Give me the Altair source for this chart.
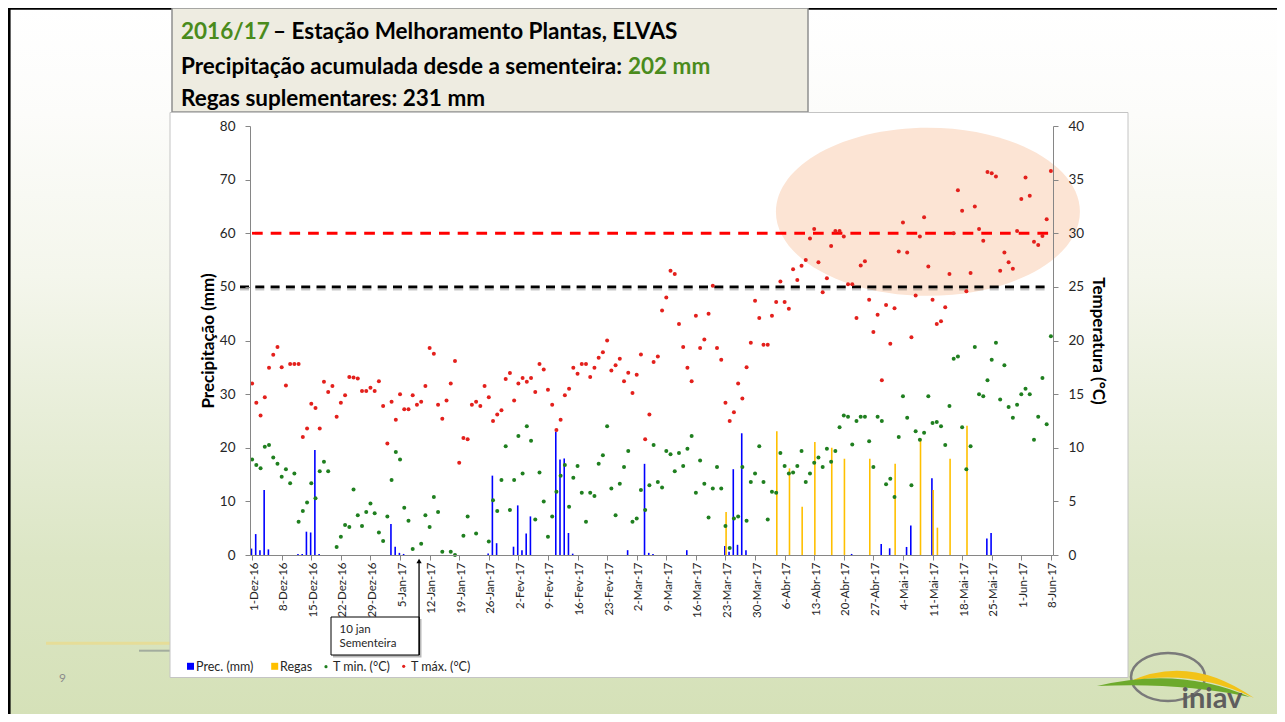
import altair as alt
import pandas as pd

# ---------------- data ----------------
DAY_LABELS = ['1-Dez-16', '8-Dez-16', '15-Dez-16', '22-Dez-16', '29-Dez-16', '5-Jan-17',
              '12-Jan-17', '19-Jan-17', '26-Jan-17', '2-Fev-17', '9-Fev-17', '16-Fev-17',
              '23-Fev-17', '2-Mar-17', '9-Mar-17', '16-Mar-17', '23-Mar-17', '30-Mar-17',
              '6-Abr-17', '13-Abr-17', '20-Abr-17', '27-Abr-17', '4-Mai-17', '11-Mai-17',
              '18-Mai-17', '25-Mai-17', '1-Jun-17', '8-Jun-17']
TICK_DAYS = list(range(0, 190, 7))   # day index since 1-Dez-16

TMAX = [16.0, 14.2, 13.0, 14.7, 17.45, 18.66, 19.4, 17.5, 15.8, 17.8,
        17.8, 17.8, 11.0, 11.8, 14.1, 13.7, 11.8, 16.15, 15.2, 15.75,
        12.9, 14.2, 14.9, 16.6, 16.55, 16.46, 15.3, 15.3, 15.6, 15.3,
        16.2, 13.9, 10.4, 14.3, 12.6, 15.0, 13.6, 13.6, 14.9, 14.0,
        14.3, 15.75, 19.3, 18.76, 14.0, 12.7, 14.4, 16.0, 18.1, 8.6,
        10.9, 10.8, 14.0, 14.3, 13.9, 15.75, 14.7, 12.5, 13.1, 13.5,
        16.4, 16.96, 14.4, 16.0, 16.5, 16.15, 16.5, 15.2, 17.8, 17.3,
        15.4, 14.0, 11.65, 12.6, 14.9, 15.5, 17.45, 16.9, 17.8, 17.8,
        16.6, 17.45, 18.4, 18.9, 20.0, 17.2, 17.7, 18.3, 16.2, 17.0,
        15.1, 16.8, 18.7, 10.8, 13.1, 18.0, 18.5, 22.8, 24.0, 26.5,
        26.2, 21.55, 19.4, 17.45, 16.2, 22.3, 19.3, 20.1, 22.5, 25.1,
        19.3, 18.2, 14.2, 12.5, 13.3, 16.0, 14.6, 17.5, 19.8, 23.7,
        22.1, 19.6, 19.6, 22.3, 23.6, 25.5, 23.6, 22.95, 26.65, 25.65,
        26.96, 27.5, 29.5, 30.4, 27.3, 24.5, 25.8, 28.8, 30.2, 30.2,
        29.7, 25.25, 25.25, 22.1, 27.0, 27.4, 23.8, 20.8, 22.4, 16.3,
        23.3, 19.7, 23.0, 28.3, 31.0, 28.2, 20.3, 24.2, 29.7, 31.5,
        26.9, 23.8, 21.55, 21.8, 23.1, 26.2, 30.0, 34.0, 32.1, 24.6,
        26.3, 32.5, 30.4, 29.3, 35.7, 35.6, 35.3, 26.5, 28.2, 27.3,
        26.7, 30.2, 33.2, 35.2, 33.5, 29.2, 28.9, 29.75, 31.3, 35.8]

TMIN = [8.9, 8.4, 8.1, 10.1, 10.25, 9.1, 8.5, 7.3, 8.0, 6.7,
        7.6, 3.1, 4.1, 4.9, 6.7, 5.3, 7.8, 8.7, 7.8, None,
        0.75, 1.7, 2.8, 2.6, 6.1, 3.7, 2.7, 4.0, 4.8, 3.9,
        2.1, 1.3, 3.6, 7.0, 9.6, 8.9, 4.4, 3.2, 0.56, None,
        1.05, 3.7, 2.6, 5.4, 4.0, 0.3, None, 0.3, 0.0, None,
        1.8, 3.6, None, 2.0, None, None, 1.25, 5.1, 4.1, 7.0,
        10.15, 4.2, 7.0, 11.1, 7.6, 12.0, 10.65, 3.3, 7.7, 5.0,
        1.7, 3.6, 5.9, 7.4, 8.4, 4.5, 7.2, 8.3, 5.8, 3.1,
        5.8, 5.5, 8.5, 9.3, 12.0, 6.2, 3.7, 6.65, 8.2, 9.7,
        3.1, 3.4, 6.05, 4.2, 6.5, 10.25, 6.8, 6.3, 9.7, 9.4,
        7.8, 9.5, 8.3, 9.9, 11.1, 5.8, 8.8, 6.65, 3.5, 6.2,
        8.2, 6.2, 2.7, 0.65, 3.4, 3.6, 8.2, 3.2, 6.8, 7.6,
        10.15, 6.8, 3.3, 5.9, 5.8, 9.5, 8.3, 7.6, 7.7, 8.3,
        9.7, 6.8, 7.6, 8.6, 9.1, 8.2, 9.9, 8.7, 9.7, 11.9,
        13.0, 12.9, 10.3, 12.5, 12.9, 12.9, 10.6, 8.2, 12.9, 12.5,
        6.6, 7.1, 5.4, 11.0, 14.8, 12.8, 6.5, 11.55, 10.75, 11.4,
        14.8, 12.3, 12.4, 12.0, 10.25, 13.9, 18.3, 18.5, 11.9, 8.0,
        10.15, 19.4, 15.0, 14.8, 16.3, 18.2, 19.8, 14.5, 17.7, 13.8,
        12.8, 14.0, 15.0, 15.5, 15.0, 10.75, 12.9, 16.5, 12.2, 20.4]

PREC_DAYS = [0, 1, 2, 3, 4, 11, 12, 13, 14, 15, 16, 33, 34, 35, 36, 56, 57, 58, 62, 63,
             64, 65, 66, 72, 73, 74, 75, 76, 89, 93, 94, 95, 103, 112, 113, 114, 115, 116,
             117, 142, 149, 151, 155, 156, 161, 174, 175]
PREC_MM = [1.2, 3.9, 0.9, 12.1, 1.05, 0.2, 0.2, 4.35, 4.2, 19.6, 0.2, 5.8, 1.55, 0.4, 0.2,
           0.3, 14.8, 2.2, 1.55, 9.25, 0.9, 4.0, 7.2, 23.0, 17.8, 18.0, 4.1, 0.25, 0.9, 17.0,
           0.4, 0.2, 0.9, 1.7, 0.6, 16.0, 1.9, 22.7, 0.9, 0.2, 2.05, 1.25, 1.5, 5.5, 14.3,
           3.1, 4.1]

REGAS_DAYS = [112, 124, 127, 130, 133, 137, 140, 146, 152, 158, 161, 162, 165, 169]
REGAS_MM = [8.0, 23.1, 16.15, 9.0, 21.05, 20.0, 17.95, 17.95, 17.0, 21.7, 12.1, 5.1, 17.95, 24.1]

SOWING_DAY = 40            # 10 jan
THRESH_C = [25, 30]        # reference temperatures
HIGHLIGHT_DAY = [159.9]    # highlighted hot period (ellipse centre)
HIGHLIGHT_TEMP = [32.0]

# ---------------- layout helpers ----------------
PW, PH = 803, 429          # plot area
X0, Y0 = 250, 126          # plot origin on page
def px(x): return x - X0
def py(y): return y - Y0

FONT = 'Lato'
one = pd.DataFrame({'k': [0]})

def rect(x1, y1, x2, y2, **kw):
    return alt.Chart(one).mark_rect(**kw).encode(
        x=alt.value(px(x1)), x2=alt.value(px(x2)), y=alt.value(py(y1)), y2=alt.value(py(y2)))

def hrule(x1, x2, y, **kw):
    return alt.Chart(one).mark_rule(**kw).encode(
        x=alt.value(px(x1)), x2=alt.value(px(x2)), y=alt.value(py(y)))

def vrule(x, y1, y2, **kw):
    return alt.Chart(one).mark_rule(**kw).encode(
        x=alt.value(px(x)), y=alt.value(py(y1)), y2=alt.value(py(y2)))

def txt(x, y, s, size=11, color='#262626', weight='normal', align='left', baseline='middle'):
    return alt.Chart(one).mark_text(text=s, fontSize=size, color=color, fontWeight=weight,
                                    align=align, baseline=baseline, font=FONT).encode(
        x=alt.value(px(x)), y=alt.value(py(y)))

def sym(x, y, **kw):
    return alt.Chart(one).mark_point(**kw).encode(x=alt.value(px(x)), y=alt.value(py(y)))

# ---------------- scales / axes ----------------
label_expr = "[" + ",".join("'%s'" % s for s in DAY_LABELS) + "][round(datum.value/7)]"
AXC = '#868686'
xaxis = alt.Axis(values=TICK_DAYS, labelExpr=label_expr, labelAngle=-90, labelAlign='right',
                 labelBaseline='middle', labelOffset=2, labelPadding=2, labelFontSize=11.5,
                 labelFont=FONT, labelColor='#262626', tickSize=5, tickColor=AXC,
                 domainColor=AXC, grid=False, zindex=1, labelOverlap=False, labelFlush=False,
                 title=None)
X = alt.X('xp:Q', scale=alt.Scale(domain=[-0.5, 189.5], nice=False, zero=False),
          axis=xaxis, title=None)

mm_axis = alt.Axis(values=list(range(0, 81, 10)), orient='left', grid=False, zindex=1,
                   labelFont=FONT, labelFontSize=13.5, labelColor='#262626', labelPadding=10,
                   tickSize=5, tickColor=AXC, domainColor=AXC,
                   title='Precipitação (mm)', titleFont=FONT, titleFontSize=17,
                   titleFontWeight='bold', titleColor='#000000', titleAngle=-90,
                   titleAlign='center', titleBaseline='middle', titleX=-42, titleY=PH / 2)
Ymm = alt.Y('mm:Q', scale=alt.Scale(domain=[0, 80], nice=False), axis=mm_axis,
            title='Precipitação (mm)')

t_axis = alt.Axis(values=list(range(0, 41, 5)), orient='right', grid=False, zindex=1,
                  labelFont=FONT, labelFontSize=13.5, labelColor='#262626', labelPadding=10,
                  tickSize=5, tickColor=AXC, domainColor=AXC,
                  title='Temperatura (°C)', titleFont=FONT, titleFontSize=17,
                  titleFontWeight='bold', titleColor='#000000', titleAngle=90,
                  titleAlign='center', titleBaseline='middle', titleX=44, titleY=PH / 2)
Yt = alt.Y('temp:Q', scale=alt.Scale(domain=[0, 40], nice=False), axis=t_axis,
           title='Temperatura (°C)')

# ---------------- data frames ----------------
days = list(range(len(TMAX)))
df_tmax = pd.DataFrame({'day': days, 'temp': TMAX})
df_tmin = pd.DataFrame({'day': days, 'temp': TMIN}).dropna()
df_prec = pd.DataFrame({'day': PREC_DAYS, 'mm': PREC_MM})
df_regas = pd.DataFrame({'day': REGAS_DAYS, 'mm': REGAS_MM})
df_sow = pd.DataFrame({'day': [SOWING_DAY]})
df_hl = pd.DataFrame({'day': HIGHLIGHT_DAY, 'temp': HIGHLIGHT_TEMP})

# ---------------- background / slide decoration ----------------
grad = alt.LinearGradient(gradient='linear', x1=0, y1=0, x2=0, y2=1, stops=[
    alt.GradientStop(offset=0.0, color='#FFFFFF'),
    alt.GradientStop(offset=0.15, color='#FCFCFA'),
    alt.GradientStop(offset=0.38, color='#F4F6EC'),
    alt.GradientStop(offset=0.57, color='#E8EED9'),
    alt.GradientStop(offset=0.78, color='#DCE6C5'),
    alt.GradientStop(offset=1.0, color='#D5E1B8')])
slide_bg = rect(8, 8, 1277, 714, color=grad)
border_top = hrule(8, 1277, 8.6, color='#000000', strokeWidth=2.4)
border_left = vrule(9.3, 8, 714, color='#000000', strokeWidth=2.6)

title_box = rect(172, 8, 808, 112, fill='#EEECE1', stroke='#8F8F8F', strokeWidth=1.5)
chart_box = rect(170, 112.5, 1128, 677.5, fill='#FFFFFF', stroke='#C4C4C4', strokeWidth=1)

GREEN_T = '#4A8B1C'
TS = 22.5
t1a = txt(181, 39, '2016/17', size=TS, color=GREEN_T, weight='bold', baseline='alphabetic')
t1b = txt(273, 39, '– Estação Melhoramento Plantas, ELVAS', size=TS, color='#000000',
          weight='bold', baseline='alphabetic')
t2a = txt(181, 74, 'Precipitação acumulada desde a sementeira:', size=TS, color='#000000',
          weight='bold', baseline='alphabetic')
t2b = txt(628, 74, '202 mm', size=TS, color=GREEN_T, weight='bold', baseline='alphabetic')
t3 = txt(181, 106, 'Regas suplementares: 231 mm', size=TS, color='#000000', weight='bold',
         baseline='alphabetic')

deco_y = hrule(46, 170, 643.3, color='#E6DD98', strokeWidth=3)
deco_g = hrule(139, 170, 650.7, color='#A3AC9E', strokeWidth=2)
slide_no = txt(62.5, 678, '9', size=12, color='#8C8C8C', align='center')

# logo (custom symbol paths)
LOGO_SIZE = 160 ** 2
ring = sym(1173, 683, shape='M -0.525 -0.075 A 0.4625 0.3 0 1 0 0.4 -0.075 A 0.4625 0.3 0 1 0 -0.525 -0.075 Z',
           size=LOGO_SIZE, filled=False, color='#7A7A7A', strokeWidth=2.5, opacity=1)
swoosh_g = sym(1175, 683, shape='M -0.975 0.0375 Q 0.0625 -0.2125 0.9375 0.175 Q 0.0625 -0.0125 -0.975 0.0375 Z',
               size=LOGO_SIZE, filled=True, color='#6DAA2C', opacity=1, strokeWidth=0)
swoosh_y = sym(1175, 683, shape='M -0.5875 -0.0125 Q 0.1875 -0.375 0.9875 0.1875 Q 0.1875 -0.1875 -0.5875 -0.0125 Z',
               size=LOGO_SIZE, filled=True, color='#F2C318', opacity=1, strokeWidth=0)
logo_txt = txt(1212, 708, 'iniav', size=29, color='#5E5E5E', weight='bold', align='center',
               baseline='alphabetic')

# legend
LS = 12.5
leg = [
    sym(190.5, 666.3, shape='square', size=49, filled=True, color='#0000FF', opacity=1),
    txt(196, 666.5, 'Prec. (mm)', size=LS),
    sym(274.7, 666.3, shape='square', size=49, filled=True, color='#FFC000', opacity=1),
    txt(280, 666.5, 'Regas', size=LS),
    sym(326, 666.7, shape='circle', size=10, filled=True, color='#1F7F1F', opacity=1),
    txt(333, 666.5, 'T min. (°C)', size=LS),
    sym(403.7, 666.3, shape='circle', size=10, filled=True, color='#E3201C', opacity=1),
    txt(411, 666.5, 'T máx. (°C)', size=LS),
]

# sowing callout
sow_shadow = rect(333, 619, 421.5, 657.5, fill='#9A9A9A', opacity=0.7)
sow_box = rect(331, 617, 419.3, 655, fill='#FFFFFF', stroke='#000000', strokeWidth=1)
sow_t1 = txt(339.5, 630, '10 jan', size=11.5)
sow_t2 = txt(339.5, 643.5, 'Sementeira', size=11.5)
sow_arrow = alt.Chart(df_sow).mark_rule(color='#000000', strokeWidth=1.3).transform_calculate(
    xp='datum.day - 0.5').encode(x=X, y=alt.value(py(655)), y2=alt.value(py(561)))
sow_head = alt.Chart(df_sow).mark_point(shape='triangle-up', filled=True, size=28,
                                        color='#000000', opacity=1).transform_calculate(
    xp='datum.day - 0.5').encode(x=X, y=alt.value(py(561)))

# ---------------- data marks ----------------
prec = alt.Chart(df_prec).mark_rule(color='#0000FF', strokeWidth=1.6).transform_calculate(
    xp='datum.day - 0.15').encode(x=X, y=Ymm, y2=alt.datum(0))
regas = alt.Chart(df_regas).mark_rule(color='#FFC000', strokeWidth=1.6).transform_calculate(
    xp='datum.day + 0.15').encode(x=X, y=Ymm, y2=alt.datum(0))

ELLIPSE = 'M -1 0 A 1 0.553 0 1 0 1 0 A 1 0.553 0 1 0 -1 0 Z'
ellipse = alt.Chart(df_hl).mark_point(shape=ELLIPSE, size=304 ** 2, filled=True,
                                      color='#FCE4D4', opacity=1, strokeWidth=0).transform_calculate(
    xp='datum.day').encode(x=X, y=Yt)

df_thr = pd.DataFrame({'temp': THRESH_C})
thr_black_shadow = alt.Chart(df_thr.iloc[[0]]).mark_rule(
    color='#000000', opacity=0.22, strokeWidth=3, strokeDash=[9, 6.3], yOffset=2).encode(
    y=Yt, x=alt.value(-10), x2=alt.value(797))
thr_black = alt.Chart(df_thr.iloc[[0]]).mark_rule(
    color='#000000', strokeWidth=2.6, strokeDash=[9, 6.3]).encode(
    y=Yt, x=alt.value(-10), x2=alt.value(797))
thr_red = alt.Chart(df_thr.iloc[[1]]).mark_rule(
    color='#FF0000', strokeWidth=2.8, strokeDash=[10.7, 8]).encode(
    y=Yt, x=alt.value(2), x2=alt.value(805))

tmin = alt.Chart(df_tmin).mark_circle(color='#1F7F1F', size=16, opacity=1).transform_calculate(
    xp='datum.day').encode(x=X, y=Yt)
tmax = alt.Chart(df_tmax).mark_circle(color='#E3201C', size=16, opacity=1).transform_calculate(
    xp='datum.day').encode(x=X, y=Yt)

left_group = alt.layer(
    slide_bg, border_top, border_left, deco_y, deco_g, slide_no,
    title_box, chart_box, t1a, t1b, t2a, t2b, t3,
    ring, swoosh_y, swoosh_g, logo_txt,
    *leg, sow_shadow, sow_box, sow_t1, sow_t2, sow_arrow, sow_head,
    prec, regas)
right_group = alt.layer(ellipse, thr_black_shadow, thr_black, thr_red, tmin, tmax)

chart = alt.layer(left_group, right_group).resolve_scale(y='independent').properties(
    width=PW, height=PH,
    padding={'left': 242, 'top': 118, 'right': 224, 'bottom': 159},
    autosize=alt.AutoSizeParams(type='none'),
    background='#FFFFFF',
).configure_view(stroke=None)

chart.save('out.html', embed_options={'renderer': 'svg', 'actions': False})
